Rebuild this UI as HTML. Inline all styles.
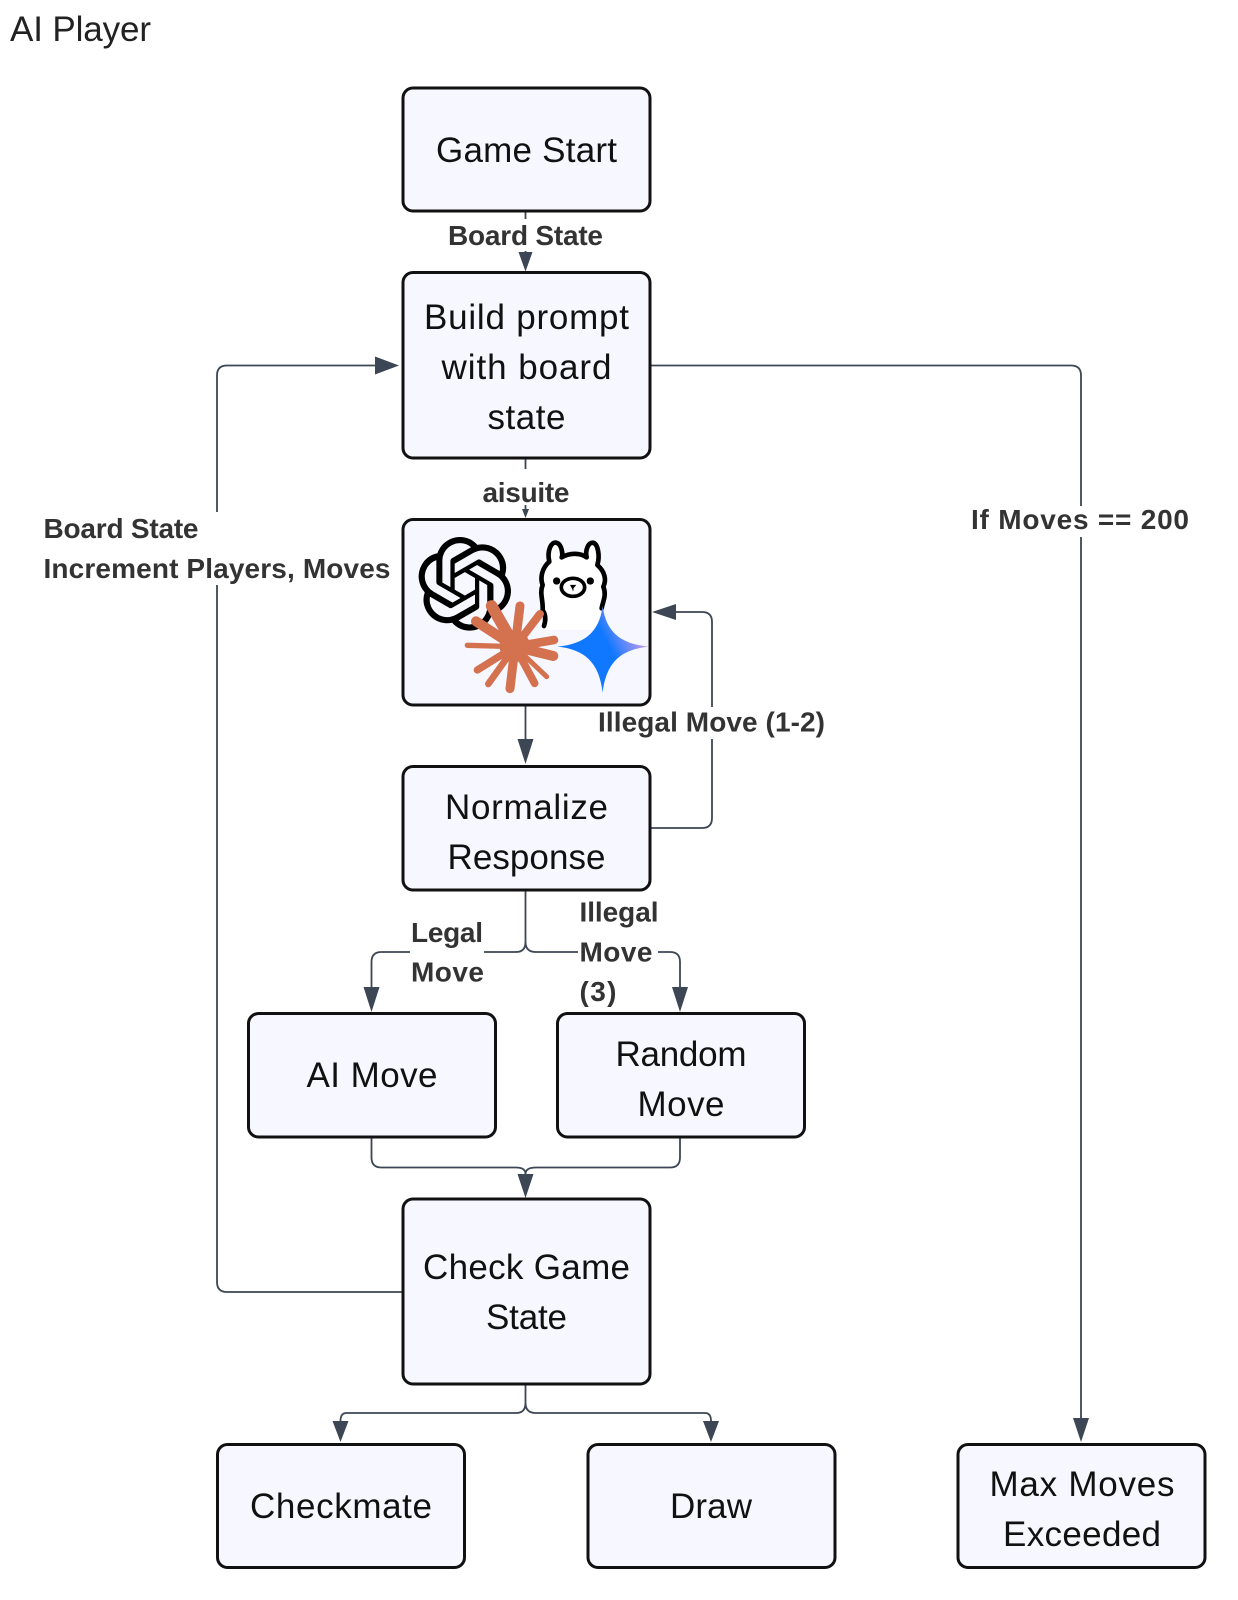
<!DOCTYPE html>
<html><head><meta charset="utf-8"><title>AI Player</title>
<style>html,body{margin:0;padding:0;background:#fff;width:1238px;height:1600px;overflow:hidden}svg{display:block}
text{font-family:"Liberation Sans",sans-serif}
.n{font-size:35px;fill:#111;text-anchor:middle}
.l{font-size:28px;font-weight:bold;fill:#333}
.b{fill:#f6f7ff;stroke:#111;stroke-width:3}
.c{fill:none;stroke:#3d4654;stroke-width:1.8}
.a{fill:#3d4654}
.w{fill:#fff}
</style></head><body>
<svg width="1238" height="1600" viewBox="0 0 1238 1600" xmlns="http://www.w3.org/2000/svg">
<defs>
<linearGradient id="g" gradientUnits="userSpaceOnUse" x1="610" y1="465" x2="745" y2="395"><stop offset="0.35" stop-color="#0f78ff"/><stop offset="1" stop-color="#c09cf2"/></linearGradient>
</defs>
<text x="10" y="41" font-size="35" fill="#222" textLength="141">AI Player</text>

<!-- connectors -->
<path class="c" d="M525.5 211V254"/>
<path class="c" d="M525.5 458V512"/>
<path class="c" d="M525.5 705V740"/>
<path class="c" d="M403 1292H227Q217 1292 217 1282V375.5Q217 365.5 227 365.5H378"/>
<path class="c" d="M650 365.5H1071Q1081 365.5 1081 375.5V1420"/>
<path class="c" d="M650 828H702Q712 828 712 818V622Q712 612 702 612H672"/>
<path class="c" d="M525.5 890V942Q525.5 952 516 952H381.5Q371.5 952 371.5 962V990"/>
<path class="c" d="M525.5 942Q525.5 952 536 952H670Q680 952 680 962V990"/>
<path class="c" d="M371.5 1137V1157.5Q371.5 1167.5 381.5 1167.5H516Q525.5 1167.5 525.5 1174V1178"/>
<path class="c" d="M680 1137V1157.5Q680 1167.5 670 1167.5H536Q525.5 1167.5 525.5 1174"/>
<path class="c" d="M525.5 1384V1403Q525.5 1413 516 1413H346.5Q340.5 1413 340.5 1421"/>
<path class="c" d="M525.5 1403Q525.5 1413 536 1413H705Q711 1413 711 1421"/>

<!-- arrowheads -->
<path class="a" d="M518.5 252H532.5L525.5 271.5Z"/>
<path class="a" d="M522 509H529L525.5 518Z"/>
<path class="a" d="M517.5 739H533.5L525.5 764Z"/>
<path class="a" d="M375 356.5V374.5L399 365.5Z"/>
<path class="a" d="M1073 1418H1089L1081 1442Z"/>
<path class="a" d="M676 604V620L652 612Z"/>
<path class="a" d="M363.5 987H379.5L371.5 1012Z"/>
<path class="a" d="M672 987H688L680 1012Z"/>
<path class="a" d="M517.5 1174H533.5L525.5 1198Z"/>
<path class="a" d="M332.5 1421H348.5L340.5 1442Z"/>
<path class="a" d="M703 1421H719L711 1442Z"/>

<!-- label backgrounds -->
<rect class="w" x="445" y="219" width="161" height="32"/>
<rect class="w" x="478" y="469" width="95" height="36"/>
<rect class="w" x="42" y="512" width="352" height="73"/>
<rect class="w" x="968" y="506" width="224" height="31"/>
<rect class="w" x="597" y="707" width="228" height="32"/>
<rect class="w" x="410" y="916" width="74" height="76"/>
<rect class="w" x="578" y="896" width="80" height="112"/>

<!-- nodes -->
<rect class="b" x="403" y="88" width="247" height="123" rx="10"/>
<rect class="b" x="403" y="272.5" width="247" height="185.5" rx="10"/>
<rect class="b" x="403" y="519.5" width="247" height="185.5" rx="10"/>
<rect class="b" x="403" y="766.5" width="247" height="123.5" rx="10"/>
<rect class="b" x="248.5" y="1013.5" width="247" height="123.5" rx="10"/>
<rect class="b" x="557.5" y="1013.5" width="247" height="123.5" rx="10"/>
<rect class="b" x="403" y="1199" width="247" height="185" rx="10"/>
<rect class="b" x="217.5" y="1444.5" width="247" height="123" rx="10"/>
<rect class="b" x="588" y="1444.5" width="247" height="123" rx="10"/>
<rect class="b" x="958" y="1444.5" width="247" height="123" rx="10"/>

<!-- node text -->
<text class="n" x="526.5" y="162" textLength="181">Game Start</text>
<text class="n" x="526.5" y="329" textLength="205">Build prompt</text>
<text class="n" x="526.5" y="379" textLength="170">with board</text>
<text class="n" x="526.5" y="429" textLength="78">state</text>
<text class="n" x="526.5" y="819" textLength="163">Normalize</text>
<text class="n" x="526.5" y="869" textLength="158">Response</text>
<text class="n" x="372" y="1087" textLength="131">AI Move</text>
<text class="n" x="681" y="1066" textLength="131">Random</text>
<text class="n" x="681" y="1116" textLength="87">Move</text>
<text class="n" x="526.5" y="1279" textLength="207">Check Game</text>
<text class="n" x="526.5" y="1329" textLength="81">State</text>
<text class="n" x="341" y="1518" textLength="182">Checkmate</text>
<text class="n" x="711" y="1518" textLength="82">Draw</text>
<text class="n" x="1082" y="1496" textLength="185">Max Moves</text>
<text class="n" x="1082" y="1546" textLength="158">Exceeded</text>

<!-- edge labels -->
<text class="l" x="448" y="245" textLength="155">Board State</text>
<text class="l" x="482.5" y="502" textLength="87">aisuite</text>
<text class="l" x="43.5" y="538" textLength="155">Board State</text>
<text class="l" x="43.5" y="578" textLength="347">Increment Players, Moves</text>
<text class="l" x="971" y="529" textLength="218">If Moves == 200</text>
<text class="l" x="598" y="731.5" textLength="227">Illegal Move (1-2)</text>
<text class="l" x="411" y="942" textLength="72">Legal</text>
<text class="l" x="411" y="981.5" textLength="73">Move</text>
<text class="l" x="579.5" y="921.5" textLength="79">Illegal</text>
<text class="l" x="579.5" y="961.5" textLength="73">Move</text>
<text class="l" x="579.5" y="1001" textLength="37">(3)</text>

<!-- OpenAI knot -->
<path transform="translate(418 537) scale(3.9)" fill="#000" d="M22.2819 9.8211a5.9847 5.9847 0 0 0-.5157-4.9108 6.0462 6.0462 0 0 0-6.5098-2.9A6.0651 6.0651 0 0 0 4.9807 4.1818a5.9847 5.9847 0 0 0-3.9977 2.9 6.0462 6.0462 0 0 0 .7427 7.0966 5.98 5.98 0 0 0 .511 4.9107 6.051 6.051 0 0 0 6.5146 2.9001A5.9847 5.9847 0 0 0 13.2599 24a6.0557 6.0557 0 0 0 5.7718-4.2058 5.9894 5.9894 0 0 0 3.9977-2.9001 6.0557 6.0557 0 0 0-.7475-7.0729zm-9.022 12.6081a4.4755 4.4755 0 0 1-2.8764-1.0408l.1419-.0804 4.7783-2.7582a.7948.7948 0 0 0 .3927-.6813v-6.7369l2.02 1.1686a.071.071 0 0 1 .038.052v5.5826a4.504 4.504 0 0 1-4.4945 4.4944zm-9.6607-4.1254a4.4708 4.4708 0 0 1-.5346-3.0137l.142.0852 4.783 2.7582a.7712.7712 0 0 0 .7806 0l5.8428-3.3685v2.3324a.0804.0804 0 0 1-.0332.0615L9.74 19.9502a4.4992 4.4992 0 0 1-6.1408-1.6464zM2.3408 7.8956a4.485 4.485 0 0 1 2.3655-1.9728V11.6a.7664.7664 0 0 0 .3879.6765l5.8144 3.3543-2.0201 1.1685a.0757.0757 0 0 1-.071 0l-4.8303-2.7865A4.504 4.504 0 0 1 2.3408 7.872zm16.5963 3.8558L13.1038 8.364 15.1192 7.2a.0757.0757 0 0 1 .071 0l4.8303 2.7913a4.4944 4.4944 0 0 1-.6765 8.1042v-5.6772a.79.79 0 0 0-.407-.667zm2.0107-3.0231l-.142-.0852-4.7735-2.7818a.7759.7759 0 0 0-.7854 0L9.409 9.2297V6.8974a.0662.0662 0 0 1 .0284-.0615l4.8303-2.7866a4.4992 4.4992 0 0 1 6.6802 4.66zM8.3065 12.863l-2.02-1.1638a.0804.0804 0 0 1-.038-.0567V6.0742a4.4992 4.4992 0 0 1 7.3757-3.4537l-.142.0805L8.704 5.459a.7948.7948 0 0 0-.3927.6813zm1.0976-2.3654l2.602-1.4998 2.6069 1.4998v2.9994l-2.5974 1.4997-2.6067-1.4997Z"/>

<!-- icons drawn in zoomed coordinates -->
<g transform="translate(390 500) scale(.3333)">
<!-- llama -->
<path d="M478 185C470 150 485 125 498 128C515 130 520 165 515 172C540 158 570 158 590 172C585 150 595 128 608 128C625 130 630 170 622 195C645 215 650 240 640 260C650 285 640 300 635 325L640 390H462C468 365 468 345 458 330C460 300 448 280 458 255C450 235 455 205 478 185Z" fill="#fff"/>
<path d="M462 378C468 360 468 345 458 330C460 300 448 280 458 255C450 235 455 205 478 185C470 150 485 125 498 128C515 130 520 165 515 172C540 158 570 158 590 172C585 150 595 128 608 128C625 130 630 170 622 195C645 215 650 240 640 260C650 285 640 300 635 325" fill="none" stroke="#000" stroke-width="14" stroke-linecap="round" stroke-linejoin="round"/>
<circle cx="500" cy="243" r="11"/><circle cx="601" cy="243" r="11"/>
<ellipse cx="549" cy="262" rx="35" ry="27" fill="#fff" stroke="#000" stroke-width="11"/>
<path d="M541 256H556L549 264V272" fill="#000" stroke="#000" stroke-width="3"/>
<!-- claude -->
<g stroke="#d4714f" stroke-linecap="round" fill="none">
<path d="M375 440L305 318" stroke-width="35"/>
<path d="M375 440L390 318" stroke-width="27"/>
<path d="M375 440L450 342" stroke-width="24"/>
<path d="M375 440L258 364" stroke-width="30"/>
<path d="M375 440L492 420" stroke-width="26"/>
<path d="M375 440L490 468" stroke-width="30"/>
<path d="M375 440L232 436" stroke-width="16"/>
<path d="M375 440L262 510" stroke-width="22"/>
<path d="M375 440L470 530" stroke-width="15"/>
<path d="M375 440L434 550" stroke-width="23"/>
<path d="M375 440L360 566" stroke-width="27"/>
<path d="M375 440L295 552" stroke-width="20"/>
</g>
<circle cx="375" cy="440" r="46" fill="#d4714f"/>
<!-- gemini -->
<path d="M638 318C648 395 690 432 778 440C690 448 648 490 638 578C628 490 586 448 502 440C586 432 628 395 638 318Z" fill="url(#g)"/>
</g>
</svg>
</body></html>
